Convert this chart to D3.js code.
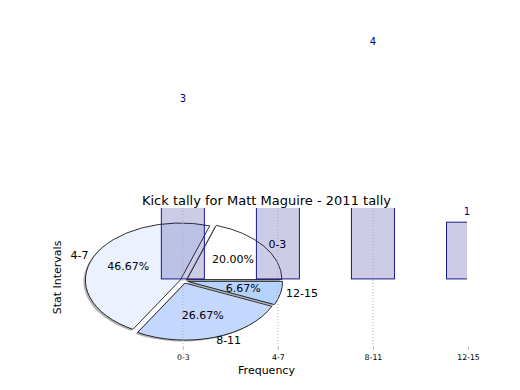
<!DOCTYPE html>
<html>
<head>
<meta charset="utf-8">
<script src="https://cdn.jsdelivr.net/npm/d3@7"></script>
<style>
  body { margin: 0; background: #fff; }
  text { font-family: "DejaVu Sans", sans-serif; }
</style>
</head>
<body>
<svg></svg>
<script>
const WIDTH = 520;
const HEIGHT = 390;

// axes box (matplotlib-ish lower subplot)
const LEFT = 65, RIGHT = 468, TOP = 208, BOTTOM = 347;

const categories = ["0-3", "4-7", "8-11", "12-15"];
const tallies = [3, 7, 4, 1];
const sliceColors = ["#ffffff", "#ebf2fe", "#c4d7fd", "#b4d3fe"];
const TITLE = "Kick tally for Matt Maguire - 2011 tally";

const $svg = d3.select("svg").attr("width", WIDTH).attr("height", HEIGHT);

const xScale = d3.scaleLinear().domain([-1.24, 3]).range([LEFT, RIGHT]);
const yScale = d3.scaleLinear().domain([-1.2, 1.25]).range([BOTTOM, TOP]);
const BAR_W = 43;

$svg.append("defs").append("clipPath").attr("id", "axclip")
  .append("rect")
  .attr("x", LEFT).attr("y", TOP)
  .attr("width", RIGHT - LEFT - 1).attr("height", BOTTOM - TOP);

// ---- pie (drawn first, below the bars) ----
function drawPie() {
  const total = d3.sum(tallies);
  const cx = xScale(0) + 1, cy = yScale(0) + 2;
  const rx = 95, ry = 57;
  const explode = 0.04;

  // matplotlib style: start at 3 o'clock, counter-clockwise
  const pie = d3.pie().sort(null).startAngle(Math.PI / 2).endAngle(Math.PI / 2 - 2 * Math.PI);
  const arcs = pie(tallies);
  // unit-circle arc, squashed into ellipse by transform
  const arc = d3.arc().innerRadius(0).outerRadius(1);

  const g = $svg.append("g");

  arcs.forEach((a, i) => {
    const mid = (a.startAngle + a.endAngle) / 2; // d3 angle: 0 = up, clockwise
    const ox = Math.sin(mid) * explode * rx;
    const oy = -Math.cos(mid) * explode * ry;
    const arcPath = arc({ startAngle: Math.min(a.startAngle, a.endAngle), endAngle: Math.max(a.startAngle, a.endAngle) });

    // shadow
    g.append("path")
      .attr("d", arcPath)
      .attr("transform", `translate(${cx + ox - 2},${cy + oy + 1.5}) scale(${rx},${ry})`)
      .attr("fill", "#555")
      .attr("opacity", 0.45);

    g.append("path")
      .attr("d", arcPath)
      .attr("transform", `translate(${cx + ox},${cy + oy}) scale(${rx},${ry})`)
      .attr("fill", sliceColors[i])
      .attr("stroke", "#000")
      .attr("stroke-width", 0.8)
      .attr("vector-effect", "non-scaling-stroke");

    // percentage label
    g.append("text")
      .attr("x", cx + ox + Math.sin(mid) * 0.6 * rx)
      .attr("y", cy + oy - Math.cos(mid) * 0.6 * ry)
      .attr("text-anchor", "middle")
      .attr("dominant-baseline", "central")
      .attr("font-size", 11)
      .text((tallies[i] / total * 100).toFixed(2) + "%");

    // category label
    const lx = cx + Math.sin(mid) * 1.1 * rx;
    g.append("text")
      .attr("x", lx)
      .attr("y", cy - Math.cos(mid) * 1.1 * ry)
      .attr("text-anchor", Math.sin(mid) >= 0 ? "start" : "end")
      .attr("dominant-baseline", "central")
      .attr("font-size", 11)
      .text(categories[i]);
  });
}

drawPie();

// ---- bars ----
const bars = $svg.append("g").attr("clip-path", "url(#axclip)");
bars.selectAll("rect")
  .data(tallies)
  .enter()
  .append("rect")
  .attr("x", (d, i) => xScale(i) - BAR_W / 2)
  .attr("y", d => yScale(d))
  .attr("width", BAR_W)
  .attr("height", d => yScale(0) - yScale(d))
  .attr("fill", "rgb(0,0,128)")
  .attr("fill-opacity", 0.2)
  .attr("stroke", "#1a1a8c")
  .attr("stroke-width", 1);

// grid lines
const grid = $svg.append("g").attr("clip-path", "url(#axclip)");
grid.selectAll("line")
  .data(categories)
  .enter()
  .append("line")
  .attr("x1", (d, i) => xScale(i)).attr("x2", (d, i) => xScale(i))
  .attr("y1", TOP).attr("y2", BOTTOM)
  .attr("stroke", "#b0b0b0")
  .attr("stroke-width", 1)
  .attr("stroke-dasharray", "1,2");

// value labels (not clipped; the tallest one falls off the top of the figure)
$svg.append("g").selectAll("text")
  .data(tallies.map((v, i) => ({ v, i })).filter(d => yScale(d.v) - 7 > 10))
  .enter()
  .append("text")
  .attr("x", d => xScale(d.i) - (d.i === 3 ? 1 : 0))
  .attr("y", d => yScale(d.v) - 7)
  .attr("text-anchor", "middle")
  .attr("font-size", 10)
  .attr("fill", "#000080")
  .text(d => d.v);

// x axis
const axis = d3.axisBottom(xScale)
  .tickValues(d3.range(categories.length))
  .tickFormat(i => categories[i])
  .tickSize(3)
  .tickPadding(4);
const $ax = $svg.append("g").attr("transform", `translate(0,${BOTTOM})`).call(axis);
$ax.select(".domain").remove();
$ax.selectAll("line").attr("stroke", "#bbb");
$ax.selectAll("text").attr("font-size", 7.8).attr("font-family", "DejaVu Sans").attr("fill", "#000");

// axis labels & title
$svg.append("text")
  .attr("x", (LEFT + RIGHT) / 2).attr("y", 374)
  .attr("text-anchor", "middle").attr("font-size", 11)
  .text("Frequency");

$svg.append("text")
  .attr("transform", `translate(61,${(TOP + BOTTOM) / 2}) rotate(-90)`)
  .attr("text-anchor", "middle").attr("font-size", 11)
  .text("Stat Intervals");

$svg.append("text")
  .attr("x", (LEFT + RIGHT) / 2).attr("y", 205)
  .attr("text-anchor", "middle").attr("font-size", 13)
  .text(TITLE);
</script>
</body>
</html>
